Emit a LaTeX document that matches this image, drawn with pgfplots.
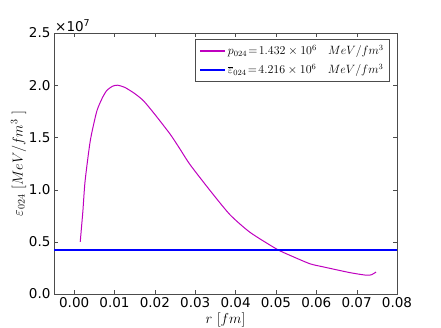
\documentclass[border=0pt]{standalone}
\usepackage{fontspec}
\setmainfont{DejaVu Sans}
\usepackage{pgfplots}
\pgfplotsset{compat=1.18}

\definecolor{mplmag}{rgb}{0.75,0,0.75}
\definecolor{mplblue}{rgb}{0,0,1}

\begin{document}
\begin{tikzpicture}
\useasboundingbox (-54pt,-33pt) rectangle (387pt,294pt);
\begin{axis}[
    name=ax,
    scale only axis,
    width=343pt, height=261pt,
    at={(0,0)}, anchor=south west,
    xmin=-0.005, xmax=0.08,
    ymin=0, ymax=2.5,
    xtick={0,0.01,...,0.08},
    ytick={0,0.5,...,2.5},
    tick align=inside,
    major tick length=4pt,
    minor tick num=0,
    axis line style={black!70, line width=0.8pt},
    tick style={black!70},
    ticklabel style={font=\fontsize{13.5}{15}\selectfont, black},
    /pgf/number format/assume math mode=true,
    xticklabel={\pgfmathprintnumber[fixed,fixed zerofill,precision=2]{\tick}},
    yticklabel={\pgfmathprintnumber[fixed,fixed zerofill,precision=1]{\tick}},
    scaled x ticks=false, scaled y ticks=false,
    xlabel={$r\ [fm]$},
    ylabel={$\varepsilon_{024}\ [MeV/fm^{3}\ ]$},
    label style={font=\fontsize{14.4}{16}\selectfont},
    xlabel style={yshift=2pt},
    ylabel style={yshift=-4pt},
    legend style={at={(rel axis cs:0.98,0.977)}, anchor=north east,
        draw=black!70, line width=0.8pt, inner sep=4pt,
        font=\fontsize{12}{14}\selectfont, row sep=4pt},
    legend cell align=left,
    legend image code/.code={\draw[#1, line width=1.2pt] (0pt,0pt) -- (25pt,0pt);},
]
\addplot[color=mplmag, line width=1pt, smooth, tension=0.4] coordinates {
    (0.0015,0.50) (0.00215,0.79) (0.0027,1.08) (0.0040,1.47)
    (0.0056,1.75) (0.0070,1.88) (0.0081,1.95) (0.0095,1.99)
    (0.0107,2.00) (0.0125,1.98) (0.0150,1.92) (0.0172,1.85)
    (0.0200,1.72) (0.0238,1.53) (0.0262,1.39) (0.0287,1.24)
    (0.0337,0.99) (0.0386,0.76) (0.0436,0.59) (0.0502,0.43)
    (0.0535,0.37) (0.0584,0.29) (0.0617,0.26) (0.0683,0.205)
    (0.0724,0.18) (0.0737,0.185) (0.0748,0.21)
};
\addlegendentry{$p_{024}\!=\!1.432\times10^{6}\ \ \ MeV/fm^{3}$}
\addplot[color=mplblue, draw=mplblue, line width=1.2pt] coordinates {
    (-0.005,0.4216) (0.0375,0.4216) (0.08,0.4216)
};
\addlegendentry{$\overline{\varepsilon}_{024}\!=\!4.216\times10^{6}\ \ \ MeV/fm^{3}$}
\end{axis}
\node[anchor=south west, font=\fontsize{13.5}{15}\selectfont, inner sep=1pt]
    at (ax.north west) {\texttimes10\textsuperscript{7}};
\end{tikzpicture}
\end{document}
